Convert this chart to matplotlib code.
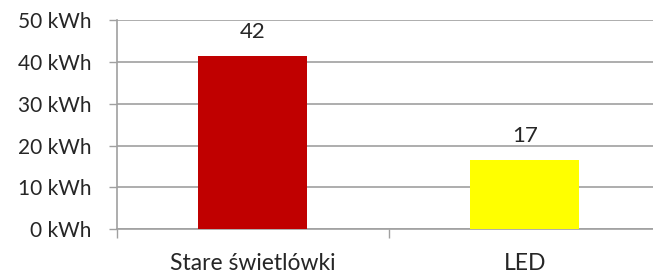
import matplotlib.pyplot as plt
import numpy as np

categories = ["Stare świetlówki", "LED"]
energy_kwh = [41.5, 16.6]
value_labels = ["42", "17"]
bar_colors = ["#C00000", "#FFFF00"]
y_ticks = [0, 10, 20, 30, 40, 50]

plt.rcParams["font.family"] = ["Lato", "DejaVu Sans"]
TEXT = "#262626"
GRID = "#A0A0A0"

fig = plt.figure(figsize=(6.53, 2.75), dpi=100)
ax = fig.add_axes([0.1787, 0.166, 1.012 - 0.1787, 0.927 - 0.166])

x = np.arange(len(categories))
bars = ax.bar(x, energy_kwh, width=0.4, color=bar_colors, zorder=3)

for b, lab in zip(bars, value_labels):
    ax.annotate(lab, (b.get_x() + b.get_width() / 2, b.get_height()),
                xytext=(0, 13), textcoords="offset points",
                ha="center", va="baseline", fontsize=16, color=TEXT)

ax.set_xlim(-0.5, len(categories) - 0.5)
ax.set_ylim(0, 50)
ax.set_yticks(y_ticks)
ax.set_yticklabels([f"{v} kWh" for v in y_ticks])
ax.set_xticks(x)
ax.set_xticklabels(categories)
ax.set_xticks(np.arange(len(categories) + 1) - 0.5, minor=True)

ax.yaxis.grid(True, color=GRID, linewidth=1.2, zorder=0)
ax.tick_params(axis="y", length=6, width=1, color=GRID, pad=12,
               labelsize=15, labelcolor=TEXT)
ax.tick_params(axis="x", which="major", length=0, pad=17,
               labelsize=16.5, labelcolor=TEXT)
ax.tick_params(axis="x", which="minor", length=6.5, width=1, color=GRID)

for side in ["top", "right"]:
    ax.spines[side].set_visible(False)
for side in ["left", "bottom"]:
    ax.spines[side].set_color(GRID)
    ax.spines[side].set_linewidth(1.2)

fig.savefig("out.png", dpi=100)
